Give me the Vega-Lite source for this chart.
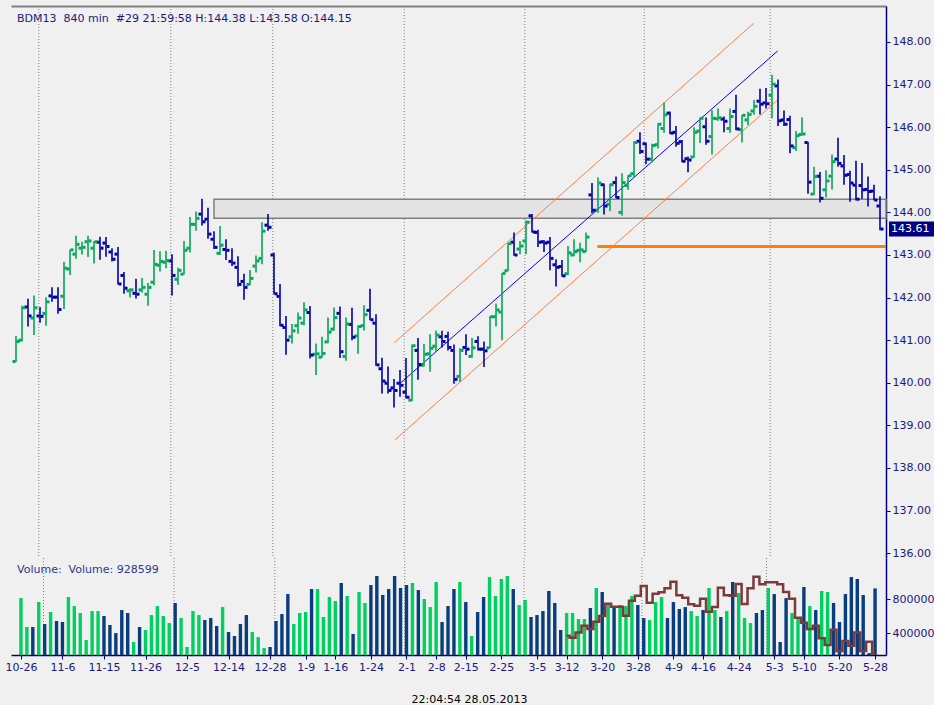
{
  "$schema": "https://vega.github.io/schema/vega-lite/v6.json",
  "padding": {"left": 4, "top": 5, "right": 0, "bottom": 0},
  "background": "#f0f0f0",
  "title": {"text": "22:04:54 28.05.2013", "orient": "bottom", "anchor": "middle", "offset": 22, "fontSize": 11, "fontWeight": "normal", "color": "#000000", "font": "DejaVu Sans"},
  "config": {
    "font": "DejaVu Sans",
    "view": {"stroke": null},
    "axis": {"labelFont": "DejaVu Sans", "labelFontSize": 11, "grid": false, "labelColor": "#1a1a80", "tickColor": "#000080", "domainColor": "#000080", "labelOverlap": false},
    "axisX": {"labelOverlap": false, "labelFlush": false}
  },
  "datasets": {
    "bars": [
      {"i":0,"o":140.50,"h":141.10,"l":140.49,"c":140.97,"v":815000},
      {"i":1,"o":141.00,"h":141.81,"l":140.97,"c":141.76,"v":474000},
      {"i":2,"o":141.78,"h":141.97,"l":141.32,"c":141.57,"v":474000},
      {"i":3,"o":141.52,"h":142.05,"l":141.12,"c":141.76,"v":768000},
      {"i":4,"o":141.57,"h":141.78,"l":141.41,"c":141.56,"v":509000},
      {"i":5,"o":141.63,"h":142.01,"l":141.34,"c":141.90,"v":651000},
      {"i":6,"o":142.04,"h":142.24,"l":141.90,"c":142.01,"v":545000},
      {"i":7,"o":142.01,"h":142.24,"l":141.62,"c":141.72,"v":533000},
      {"i":8,"o":142.03,"h":142.84,"l":141.73,"c":142.69,"v":827000},
      {"i":9,"o":142.67,"h":143.13,"l":142.53,"c":143.12,"v":721000},
      {"i":10,"o":143.02,"h":143.45,"l":142.91,"c":143.25,"v":639000},
      {"i":11,"o":143.16,"h":143.31,"l":143.01,"c":143.18,"v":321000},
      {"i":12,"o":143.31,"h":143.45,"l":142.95,"c":143.33,"v":662000},
      {"i":13,"o":143.16,"h":143.33,"l":142.80,"c":143.31,"v":662000},
      {"i":14,"o":143.30,"h":143.43,"l":142.89,"c":143.16,"v":604000},
      {"i":15,"o":143.28,"h":143.42,"l":142.96,"c":143.20,"v":498000},
      {"i":16,"o":143.07,"h":143.16,"l":142.85,"c":142.90,"v":403000},
      {"i":17,"o":143.02,"h":143.19,"l":142.31,"c":142.32,"v":674000},
      {"i":18,"o":142.52,"h":142.60,"l":142.09,"c":142.22,"v":639000},
      {"i":19,"o":142.16,"h":142.22,"l":142.00,"c":142.18,"v":298000},
      {"i":20,"o":142.10,"h":142.44,"l":141.98,"c":142.08,"v":474000},
      {"i":21,"o":142.18,"h":142.46,"l":142.12,"c":142.24,"v":439000},
      {"i":22,"o":142.08,"h":142.34,"l":141.81,"c":142.24,"v":615000},
      {"i":23,"o":142.36,"h":143.12,"l":142.29,"c":142.78,"v":721000},
      {"i":24,"o":142.76,"h":143.09,"l":142.61,"c":142.85,"v":604000},
      {"i":25,"o":142.83,"h":143.10,"l":142.69,"c":142.87,"v":521000},
      {"i":26,"o":142.86,"h":143.02,"l":142.05,"c":142.52,"v":757000},
      {"i":27,"o":142.43,"h":142.70,"l":142.30,"c":142.64,"v":580000},
      {"i":28,"o":142.55,"h":143.33,"l":142.54,"c":143.11,"v":239000},
      {"i":29,"o":143.16,"h":143.89,"l":143.06,"c":143.72,"v":662000},
      {"i":30,"o":143.72,"h":144.02,"l":143.57,"c":143.86,"v":615000},
      {"i":31,"o":143.96,"h":144.32,"l":143.69,"c":143.78,"v":556000},
      {"i":32,"o":143.84,"h":144.11,"l":143.38,"c":143.49,"v":580000},
      {"i":33,"o":143.37,"h":143.56,"l":143.14,"c":143.18,"v":486000},
      {"i":34,"o":143.04,"h":143.68,"l":143.00,"c":143.23,"v":709000},
      {"i":35,"o":143.13,"h":143.37,"l":142.88,"c":143.11,"v":415000},
      {"i":36,"o":142.85,"h":143.16,"l":142.74,"c":142.81,"v":368000},
      {"i":37,"o":142.71,"h":142.97,"l":142.26,"c":142.31,"v":509000},
      {"i":38,"o":142.38,"h":142.56,"l":141.95,"c":142.24,"v":615000},
      {"i":39,"o":142.31,"h":142.65,"l":142.29,"c":142.45,"v":415000},
      {"i":40,"o":142.74,"h":142.99,"l":142.59,"c":142.86,"v":356000},
      {"i":41,"o":142.92,"h":143.77,"l":142.78,"c":143.56,"v":227000},
      {"i":42,"o":143.70,"h":143.96,"l":143.57,"c":143.65,"v":239000},
      {"i":43,"o":143.00,"h":143.05,"l":142.08,"c":142.09,"v":545000},
      {"i":44,"o":142.03,"h":142.32,"l":141.33,"c":141.35,"v":627000},
      {"i":45,"o":141.30,"h":141.57,"l":140.66,"c":141.00,"v":862000},
      {"i":46,"o":141.08,"h":141.38,"l":140.92,"c":141.22,"v":509000},
      {"i":47,"o":141.34,"h":141.65,"l":141.15,"c":141.52,"v":639000},
      {"i":48,"o":141.40,"h":141.89,"l":141.35,"c":141.71,"v":651000},
      {"i":49,"o":141.65,"h":141.80,"l":140.57,"c":140.65,"v":921000},
      {"i":50,"o":140.67,"h":140.92,"l":140.18,"c":140.68,"v":921000},
      {"i":51,"o":140.60,"h":141.08,"l":140.59,"c":140.69,"v":592000},
      {"i":52,"o":140.96,"h":141.53,"l":140.93,"c":141.19,"v":827000},
      {"i":53,"o":141.26,"h":141.77,"l":141.22,"c":141.53,"v":780000},
      {"i":54,"o":141.63,"h":141.79,"l":140.58,"c":140.73,"v":992000},
      {"i":55,"o":140.62,"h":141.53,"l":140.52,"c":141.38,"v":839000},
      {"i":56,"o":141.37,"h":141.76,"l":141.00,"c":141.07,"v":392000},
      {"i":57,"o":141.10,"h":141.35,"l":140.68,"c":141.32,"v":886000},
      {"i":58,"o":141.34,"h":141.82,"l":141.23,"c":141.60,"v":757000},
      {"i":59,"o":141.70,"h":142.21,"l":141.47,"c":141.48,"v":968000},
      {"i":60,"o":141.40,"h":141.61,"l":140.40,"c":140.42,"v":1074000},
      {"i":61,"o":140.33,"h":140.59,"l":139.75,"c":140.04,"v":851000},
      {"i":62,"o":139.99,"h":140.38,"l":139.75,"c":139.82,"v":921000},
      {"i":63,"o":139.88,"h":140.09,"l":139.42,"c":139.82,"v":1074000},
      {"i":64,"o":139.99,"h":140.30,"l":139.67,"c":139.94,"v":933000},
      {"i":65,"o":139.78,"h":140.58,"l":139.63,"c":139.66,"v":968000},
      {"i":66,"o":139.59,"h":140.90,"l":139.57,"c":140.87,"v":992000},
      {"i":67,"o":140.76,"h":141.05,"l":140.07,"c":140.43,"v":909000},
      {"i":68,"o":140.41,"h":140.91,"l":140.38,"c":140.67,"v":804000},
      {"i":69,"o":140.68,"h":141.14,"l":140.26,"c":140.81,"v":709000},
      {"i":70,"o":140.86,"h":141.23,"l":140.72,"c":141.12,"v":1004000},
      {"i":71,"o":141.08,"h":141.22,"l":140.83,"c":140.97,"v":533000},
      {"i":72,"o":141.09,"h":141.20,"l":140.76,"c":140.83,"v":721000},
      {"i":73,"o":140.76,"h":140.90,"l":139.98,"c":140.08,"v":921000},
      {"i":74,"o":140.15,"h":140.81,"l":140.02,"c":140.76,"v":1004000},
      {"i":75,"o":140.83,"h":141.14,"l":140.65,"c":140.79,"v":768000},
      {"i":76,"o":140.62,"h":141.05,"l":140.59,"c":140.82,"v":368000},
      {"i":77,"o":140.97,"h":141.09,"l":140.76,"c":140.79,"v":651000},
      {"i":78,"o":140.79,"h":140.97,"l":140.37,"c":140.75,"v":827000},
      {"i":79,"o":140.82,"h":141.57,"l":140.81,"c":141.55,"v":1062000},
      {"i":80,"o":141.55,"h":141.86,"l":141.32,"c":141.71,"v":839000},
      {"i":81,"o":141.66,"h":142.58,"l":141.00,"c":142.57,"v":1039000},
      {"i":82,"o":142.63,"h":143.28,"l":142.62,"c":143.27,"v":1074000},
      {"i":83,"o":143.30,"h":143.53,"l":142.98,"c":143.00,"v":921000},
      {"i":84,"o":143.14,"h":143.33,"l":143.02,"c":143.21,"v":733000},
      {"i":85,"o":143.33,"h":143.81,"l":143.02,"c":143.77,"v":792000},
      {"i":86,"o":143.92,"h":143.96,"l":143.53,"c":143.54,"v":592000},
      {"i":87,"o":143.53,"h":143.59,"l":143.19,"c":143.30,"v":615000},
      {"i":88,"o":143.31,"h":143.35,"l":143.07,"c":143.28,"v":662000},
      {"i":89,"o":143.30,"h":143.42,"l":142.64,"c":142.92,"v":898000},
      {"i":90,"o":142.77,"h":142.90,"l":142.26,"c":142.71,"v":757000},
      {"i":91,"o":142.73,"h":142.88,"l":142.49,"c":142.51,"v":439000},
      {"i":92,"o":142.56,"h":143.21,"l":142.53,"c":143.05,"v":639000},
      {"i":93,"o":143.00,"h":143.37,"l":142.97,"c":143.08,"v":639000},
      {"i":94,"o":143.11,"h":143.29,"l":142.83,"c":143.12,"v":568000},
      {"i":95,"o":143.08,"h":143.53,"l":143.07,"c":143.42,"v":568000},
      {"i":96,"o":144.41,"h":144.69,"l":143.98,"c":144.05,"v":698000},
      {"i":97,"o":144.05,"h":144.82,"l":143.99,"c":144.69,"v":933000},
      {"i":98,"o":144.65,"h":144.68,"l":143.95,"c":144.15,"v":886000},
      {"i":99,"o":144.19,"h":144.68,"l":144.03,"c":144.65,"v":745000},
      {"i":100,"o":144.70,"h":144.84,"l":144.33,"c":144.35,"v":709000},
      {"i":101,"o":144.00,"h":144.92,"l":143.92,"c":144.70,"v":733000},
      {"i":102,"o":144.63,"h":144.87,"l":144.53,"c":144.86,"v":721000},
      {"i":103,"o":144.91,"h":145.67,"l":144.83,"c":145.64,"v":839000},
      {"i":104,"o":145.67,"h":145.88,"l":145.37,"c":145.43,"v":733000},
      {"i":105,"o":145.61,"h":145.64,"l":145.13,"c":145.25,"v":580000},
      {"i":106,"o":145.25,"h":145.61,"l":145.17,"c":145.57,"v":556000},
      {"i":107,"o":145.59,"h":146.09,"l":145.50,"c":146.07,"v":768000},
      {"i":108,"o":145.97,"h":146.58,"l":145.87,"c":146.29,"v":827000},
      {"i":109,"o":146.33,"h":146.37,"l":145.84,"c":145.86,"v":580000},
      {"i":110,"o":145.88,"h":146.03,"l":145.54,"c":145.62,"v":768000},
      {"i":111,"o":145.66,"h":145.70,"l":145.18,"c":145.20,"v":686000},
      {"i":112,"o":145.26,"h":145.31,"l":144.94,"c":145.23,"v":709000},
      {"i":113,"o":145.30,"h":146.00,"l":145.28,"c":145.88,"v":662000},
      {"i":114,"o":145.91,"h":146.23,"l":145.63,"c":146.21,"v":604000},
      {"i":115,"o":146.01,"h":146.23,"l":145.59,"c":145.67,"v":674000},
      {"i":116,"o":145.78,"h":146.40,"l":145.36,"c":146.21,"v":933000},
      {"i":117,"o":146.20,"h":146.44,"l":146.15,"c":146.22,"v":674000},
      {"i":118,"o":146.19,"h":146.25,"l":145.88,"c":146.14,"v":592000},
      {"i":119,"o":145.97,"h":146.44,"l":145.87,"c":146.25,"v":662000},
      {"i":120,"o":146.37,"h":146.76,"l":145.93,"c":145.96,"v":1004000},
      {"i":121,"o":145.94,"h":146.29,"l":145.64,"c":146.28,"v":874000},
      {"i":122,"o":146.17,"h":146.36,"l":146.05,"c":146.30,"v":580000},
      {"i":123,"o":146.38,"h":146.64,"l":146.29,"c":146.49,"v":521000},
      {"i":124,"o":146.61,"h":146.90,"l":146.30,"c":146.54,"v":639000},
      {"i":125,"o":146.57,"h":146.92,"l":146.44,"c":146.55,"v":674000},
      {"i":126,"o":146.75,"h":147.23,"l":146.21,"c":147.01,"v":933000},
      {"i":127,"o":146.97,"h":147.12,"l":146.03,"c":146.15,"v":862000},
      {"i":128,"o":146.17,"h":146.39,"l":146.03,"c":146.07,"v":298000},
      {"i":129,"o":146.18,"h":146.27,"l":145.39,"c":145.56,"v":815000},
      {"i":130,"o":145.52,"h":145.91,"l":145.44,"c":145.80,"v":639000},
      {"i":131,"o":145.83,"h":146.23,"l":145.80,"c":145.84,"v":592000},
      {"i":132,"o":145.64,"h":145.66,"l":144.44,"c":144.71,"v":945000},
      {"i":133,"o":144.43,"h":145.07,"l":144.41,"c":144.84,"v":721000},
      {"i":134,"o":144.85,"h":144.95,"l":144.23,"c":144.33,"v":674000},
      {"i":135,"o":144.53,"h":144.99,"l":144.35,"c":144.74,"v":898000},
      {"i":136,"o":144.85,"h":145.36,"l":144.54,"c":145.19,"v":886000},
      {"i":137,"o":145.25,"h":145.75,"l":145.07,"c":145.15,"v":757000},
      {"i":138,"o":145.09,"h":145.35,"l":144.65,"c":144.87,"v":533000},
      {"i":139,"o":144.89,"h":144.98,"l":144.25,"c":144.69,"v":862000},
      {"i":140,"o":144.64,"h":145.21,"l":144.28,"c":144.31,"v":1062000},
      {"i":141,"o":144.63,"h":145.16,"l":144.32,"c":144.53,"v":1039000},
      {"i":142,"o":144.54,"h":144.84,"l":144.14,"c":144.49,"v":851000},
      {"i":143,"o":144.50,"h":144.65,"l":144.28,"c":144.29,"v":168000},
      {"i":144,"o":144.15,"h":144.38,"l":143.58,"c":143.61,"v":928599}
    ],
    "ma": [
      {"i":92,"m":372000},{"i":93,"m":349000},{"i":94,"m":411000},{"i":95,"m":490000},
      {"i":96,"m":451000},{"i":97,"m":537000},{"i":98,"m":603000},{"i":99,"m":749000},
      {"i":100,"m":713000},{"i":101,"m":713000},{"i":102,"m":607000},{"i":103,"m":784000},
      {"i":104,"m":843000},{"i":105,"m":956000},{"i":106,"m":760000},{"i":107,"m":866000},
      {"i":108,"m":882000},{"i":109,"m":929000},{"i":110,"m":1008000},{"i":111,"m":847000},
      {"i":112,"m":819000},{"i":113,"m":741000},{"i":114,"m":725000},{"i":115,"m":807000},
      {"i":116,"m":655000},{"i":117,"m":709000},{"i":118,"m":937000},{"i":119,"m":847000},
      {"i":120,"m":843000},{"i":121,"m":980000},{"i":122,"m":745000},{"i":123,"m":929000},
      {"i":124,"m":1066000},{"i":125,"m":976000},{"i":126,"m":1000000},{"i":127,"m":1000000},
      {"i":128,"m":976000},{"i":129,"m":886000},{"i":130,"m":807000},{"i":131,"m":584000},
      {"i":132,"m":525000},{"i":133,"m":451000},{"i":134,"m":490000},{"i":135,"m":341000},
      {"i":136,"m":262000},{"i":137,"m":443000},{"i":138,"m":192000},{"i":139,"m":309000},
      {"i":140,"m":254000},{"i":141,"m":411000},{"i":142,"m":192000},{"i":143,"m":302000},
      {"i":144,"m":164000}
    ],
    "months": [{"i":3.8},{"i":25.8},{"i":42.8},{"i":64.7},{"i":84.8},{"i":104.7},{"i":125.7}],
    "channel": [
      {"line":"mid","i":63.8,"p":139.96},{"line":"mid","i":126.95,"p":147.79},
      {"line":"up","i":63.05,"p":140.94},{"line":"up","i":122.95,"p":148.44},
      {"line":"dn","i":63.17,"p":138.66},{"line":"dn","i":126.95,"p":146.64}
    ],
    "level": [{"i":96.9,"p":143.2},{"i":145,"p":143.2}],
    "zone": [{"x1":33,"x2":145,"lo":143.86,"hi":144.31}]
  },
  "vconcat": [
    {
      "width": 875,
      "height": 552,
      "title": {"text": "BDM13\u00a0 840 min\u00a0 #29 21:59:58 H:144.38 L:143.58 O:144.15", "anchor": "start", "frame": "group", "offset": -13, "baseline": "top", "dx": 6, "dy": 5, "fontSize": 11, "fontWeight": "normal", "color": "#1a1a80"},
      "layer": [
        {
          "data": {"name": "months"},
          "mark": {"type": "rule", "color": "#808080", "strokeDash": [1, 2], "strokeWidth": 1},
          "encoding": {
            "x": {"field": "i", "type": "quantitative", "title": null,
              "scale": {"domain": [-0.833, 145], "nice": false, "zero": false},
              "axis": {"orient": "top", "domainColor": "#808080", "domainWidth": 2, "ticks": false, "labels": false, "title": null}}
          }
        },
        {
          "data": {"name": "zone"},
          "mark": {"type": "rect", "fill": "#e4e4e4", "stroke": "#808080", "strokeWidth": 1.5},
          "encoding": {
            "x": {"field": "x1", "type": "quantitative", "title": null},
            "x2": {"field": "x2"},
            "y": {"field": "hi", "type": "quantitative", "title": null,
              "scale": {"domain": [135.887, 148.845], "nice": false, "zero": false},
              "axis": {"orient": "right", "values": [136,137,138,139,140,141,142,143,144,145,146,147,148], "tickCount": 20, "format": ".2f", "tickSize": 4, "domainWidth": 1.5, "labelPadding": 2, "title": null}},
            "y2": {"field": "lo"}
          }
        },
        {
          "data": {"name": "channel"},
          "mark": {"type": "line", "strokeWidth": 1},
          "encoding": {
            "x": {"field": "i", "type": "quantitative", "title": null},
            "y": {"field": "p", "type": "quantitative", "title": null},
            "detail": {"field": "line"},
            "color": {"field": "line", "type": "nominal", "legend": null,
              "scale": {"domain": ["mid", "up", "dn"], "range": ["#0000ff", "#ff7f3f", "#ff7f3f"]}}
          }
        },
        {
          "data": {"name": "level"},
          "mark": {"type": "line", "strokeWidth": 3, "color": "#ff8000"},
          "encoding": {
            "x": {"field": "i", "type": "quantitative", "title": null},
            "y": {"field": "p", "type": "quantitative", "title": null}
          }
        },
        {
          "data": {"name": "bars"},
          "mark": {"type": "rule", "strokeWidth": 1.6},
          "encoding": {
            "x": {"field": "i", "type": "quantitative", "title": null},
            "y": {"field": "h", "type": "quantitative", "title": null},
            "y2": {"field": "l"},
            "color": {"condition": {"test": "datum.c >= datum.o", "value": "#00a85a"}, "value": "#0000a8"}
          }
        },
        {
          "data": {"name": "bars"},
          "mark": {"type": "square", "size": 9, "xOffset": -2, "opacity": 1},
          "encoding": {
            "x": {"field": "i", "type": "quantitative", "title": null},
            "y": {"field": "o", "type": "quantitative", "title": null},
            "color": {"condition": {"test": "datum.c >= datum.o", "value": "#00a85a"}, "value": "#0000a8"}
          }
        },
        {
          "data": {"name": "bars"},
          "mark": {"type": "square", "size": 9, "xOffset": 2, "opacity": 1},
          "encoding": {
            "x": {"field": "i", "type": "quantitative", "title": null},
            "y": {"field": "c", "type": "quantitative", "title": null},
            "color": {"condition": {"test": "datum.c >= datum.o", "value": "#00a85a"}, "value": "#0000a8"}
          }
        },
        {
          "data": {"name": "bars"},
          "transform": [{"filter": "datum.i == 144"}],
          "mark": {"type": "point", "shape": "M0.4,-1H6.4V1H0.4Z", "size": 225, "filled": true, "opacity": 1, "color": "#000080"},
          "encoding": {
            "x": {"datum": 145, "type": "quantitative"},
            "y": {"field": "c", "type": "quantitative", "title": null}
          }
        },
        {
          "data": {"name": "bars"},
          "transform": [{"filter": "datum.i == 144"}],
          "mark": {"type": "text", "align": "left", "baseline": "middle", "dx": 5, "fontSize": 11, "color": "#ffffff"},
          "encoding": {
            "x": {"datum": 145, "type": "quantitative"},
            "y": {"field": "c", "type": "quantitative", "title": null},
            "text": {"field": "c", "type": "quantitative", "format": ".2f"}
          }
        },
        {
          "mark": {"type": "rule", "color": "#000080", "strokeWidth": 2},
          "encoding": {"x": {"datum": -0.833, "type": "quantitative"}}
        }
      ]
    },
    {
      "width": 875,
      "height": 97,
      "title": {"text": "Volume:\u00a0 Volume: 928599", "anchor": "start", "frame": "group", "offset": -13, "baseline": "top", "dx": 6, "dy": 4, "fontSize": 11, "fontWeight": "normal", "color": "#2a3a8a"},
      "layer": [
        {
          "data": {"name": "months"},
          "mark": {"type": "rule", "color": "#808080", "strokeDash": [1, 2], "strokeWidth": 1},
          "encoding": {
            "x": {"field": "i", "type": "quantitative", "title": null,
              "scale": {"domain": [-0.833, 145], "nice": false, "zero": false},
              "axis": {"orient": "bottom", "values": [0,7,14,21,28,35,42,48,53,59,65,70,75,81,87,92,98,104,110,115,121,127,132,138,144],
                "tickCount": 60,
                "labelExpr": "({'0':'10-26','7':'11-6','14':'11-15','21':'11-26','28':'12-5','35':'12-14','42':'12-28','48':'1-9','53':'1-16','59':'1-24','65':'2-1','70':'2-8','75':'2-15','81':'2-25','87':'3-5','92':'3-12','98':'3-20','104':'3-28','110':'4-9','115':'4-16','121':'4-24','127':'5-3','132':'5-10','138':'5-20','144':'5-28'})[datum.value]",
                "tickSize": 4, "domainWidth": 1.5, "labelPadding": 2, "labelFlush": false, "labelOverlap": false, "title": null}}
          }
        },
        {
          "data": {"name": "bars"},
          "mark": {"type": "bar", "size": 3.4, "clip": true},
          "encoding": {
            "x": {"field": "i", "type": "quantitative", "title": null, "axis": {"tickCount": 60, "labelOverlap": false}},
            "y": {"field": "v", "type": "quantitative", "title": null,
              "scale": {"domain": [145000, 1286000], "nice": false, "zero": false},
              "axis": {"orient": "right", "values": [400000, 800000], "format": "d", "tickSize": 4, "domainWidth": 1.5, "labelPadding": 2, "title": null}},
            "color": {"condition": {"test": "datum.c >= datum.o", "value": "#00d060"}, "value": "#0a3d7e"}
          }
        },
        {
          "data": {"name": "ma"},
          "mark": {"type": "line", "interpolate": "step", "color": "#7a3b3b", "strokeWidth": 2.5, "clip": true},
          "encoding": {
            "x": {"field": "i", "type": "quantitative", "title": null},
            "y": {"field": "m", "type": "quantitative", "title": null}
          }
        },
        {
          "mark": {"type": "rule", "color": "#000080", "strokeWidth": 2},
          "encoding": {"x": {"datum": -0.833, "type": "quantitative"}}
        }
      ]
    }
  ],
  "spacing": 0,
  "bounds": "flush"
}
